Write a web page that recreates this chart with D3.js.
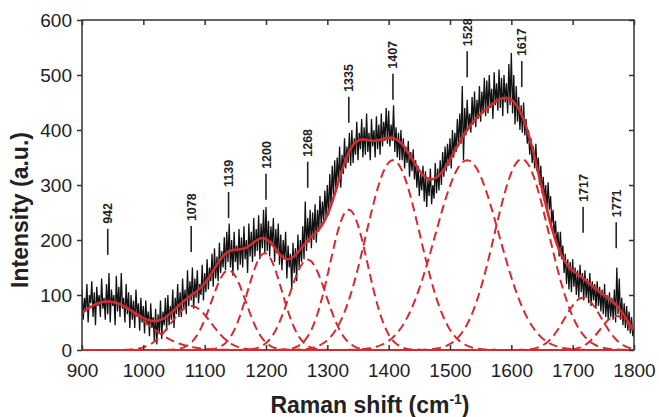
<!DOCTYPE html>
<html><head><meta charset="utf-8">
<script src="https://cdn.jsdelivr.net/npm/d3@7"></script>
<style>
html,body{margin:0;padding:0;background:#fff;}
svg{display:block;font-family:"Liberation Sans",Arial,Helvetica,sans-serif;}
</style></head>
<body><svg id="chart" width="659" height="417"></svg>
<script>
// ---- data ----
const shiftStart = 900, shiftStep = 2;
const intensity = [
 110,55,95,70,120,50,100,85,125,60,
 105,45,115,80,100,60,130,75,95,55,
 120,65,140,50,110,80,100,45,135,70,
 115,60,140,75,95,50,120,65,105,40,
 100,55,90,40,110,60,85,35,95,50,
 80,30,90,45,70,25,85,40,60,15,
 75,10,65,30,90,20,70,45,95,35,
 100,45,80,55,110,40,95,65,120,60,
 105,60,130,75,110,65,145,80,125,90,
 150,75,130,95,145,85,120,100,155,90,
 140,105,165,110,150,125,175,115,185,130,
 170,125,195,140,180,150,205,145,215,160,
 230,150,200,135,215,160,190,145,220,155,
 205,150,225,165,200,140,230,170,215,160,
 240,170,220,180,245,165,230,185,255,175,
 260,180,235,170,225,190,240,160,220,175,
 230,155,210,145,200,165,215,130,190,150,
 175,110,195,140,185,125,210,150,200,160,
 225,165,270,180,240,195,255,185,250,200,
 265,195,255,215,280,225,270,235,290,240,
 300,245,320,260,335,280,345,290,350,305,
 370,295,355,320,385,330,370,340,395,335,
 400,340,385,355,415,345,395,365,420,350,
 405,355,430,360,395,345,420,370,400,350,
 425,365,410,355,430,370,415,380,440,375,
 435,370,410,380,445,360,405,350,395,345,
 400,345,385,330,370,340,380,315,360,325,
 365,310,345,295,335,280,320,290,335,270,
 325,260,310,280,330,265,300,275,340,285,
 330,290,345,300,360,315,370,325,375,335,
 385,330,400,350,395,360,420,370,430,375,
 480,345,440,390,455,400,430,395,460,410,
 470,405,455,420,480,415,470,430,495,425,
 490,430,500,440,475,420,505,445,485,435,
 510,440,495,425,500,450,485,430,520,445,
 540,430,500,410,480,415,460,400,445,395,
 450,390,420,375,400,355,385,340,370,330,
 375,325,350,300,335,285,315,270,300,255,
 305,255,280,230,255,205,235,190,215,170,
 215,165,190,140,175,120,165,110,160,105,
 165,115,150,100,145,95,155,105,140,90,
 145,95,130,85,140,80,125,90,120,75,
 125,80,115,70,110,65,120,60,100,55,
 105,60,95,55,110,50,150,65,130,55,
 95,45,85,40,80,35,70,30,60,25,
 40
];
// fitted Gaussian components
const peakCenters = [942, 1078, 1139, 1198, 1268, 1335, 1407, 1528, 1617, 1717, 1771];
const peakHeights = [88, 80, 145, 176, 164, 255, 345, 345, 347, 95, 62];
const peakSigmas  = [58, 33, 28, 28, 30, 31, 44, 52, 44.5, 30, 26];
const peakLabels  = ["942","1078","1139","1200","1268","1335","1407","1528","1617","1717","1771"];
const labelBase   = [173, 178, 240, 273, 295, 413, 455, 496, 478, 213, 185];
const xTicks = [900,1000,1100,1200,1300,1400,1500,1600,1700,1800];
const yTicks = [0,100,200,300,400,500,600];

// ---- layout ----
const L = 82, R = 634, T = 20, B = 350;
const svg = d3.select("#chart");
const x = d3.scaleLinear().domain([900, 1800]).range([L, R]);
const y = d3.scaleLinear().domain([0, 600]).range([B, T]);
const red = "#d42a30";

svg.append("defs").append("clipPath").attr("id","clip")
  .append("rect").attr("x",L).attr("y",T).attr("width",R-L).attr("height",B-T);

const spectrum = intensity.map((v,i)=>({s: shiftStart + i*shiftStep, v}));
const gridX = d3.range(900, 1800.1, 2);
const comp = (k, s) => peakHeights[k]*Math.exp(-((s-peakCenters[k])**2)/(2*peakSigmas[k]**2));
const line = d3.line().x(d=>x(d[0])).y(d=>y(d[1]));

const g = svg.append("g").attr("clip-path","url(#clip)");
// black spectrum
g.append("path").datum(spectrum)
  .attr("d", d3.line().x(d=>x(d.s)).y(d=>y(d.v)))
  .attr("fill","none").attr("stroke","#111").attr("stroke-width",1.3);
// components
peakCenters.forEach((c,k)=>{
  g.append("path").datum(gridX.map(s=>[s, comp(k,s)]))
   .attr("d", line).attr("fill","none").attr("stroke",red)
   .attr("stroke-width",2).attr("stroke-dasharray","9,5");
});
// fit
g.append("path").datum(gridX.map(s=>[s, d3.sum(peakCenters,(c,k)=>comp(k,s))]))
  .attr("d", line).attr("fill","none").attr("stroke",red).attr("stroke-width",2.6);

// frame
svg.append("rect").attr("x",L).attr("y",T).attr("width",R-L).attr("height",B-T)
  .attr("fill","none").attr("stroke","#333").attr("stroke-width",1.5);
// red zero line
svg.append("line").attr("x1",L).attr("x2",R).attr("y1",y(0)).attr("y2",y(0))
  .attr("stroke",red).attr("stroke-width",2);

// axes
const fmt = d3.format("d");
const axB = svg.append("g").attr("transform",`translate(0,${B})`)
  .call(d3.axisBottom(x).tickValues(xTicks).tickFormat(fmt).tickSizeInner(-5).tickSizeOuter(0).tickPadding(14));
const axT = svg.append("g").attr("transform",`translate(0,${T})`)
  .call(d3.axisTop(x).tickValues(xTicks).tickSizeInner(-5).tickSizeOuter(0).tickFormat(""));
const axL = svg.append("g").attr("transform",`translate(${L},0)`)
  .call(d3.axisLeft(y).tickValues(yTicks).tickFormat(fmt).tickSizeInner(5).tickSizeOuter(0).tickPadding(5));
const axR = svg.append("g").attr("transform",`translate(${R},0)`)
  .call(d3.axisRight(y).tickValues(yTicks).tickSizeInner(-5).tickSizeOuter(0).tickFormat(""));
[axB,axT,axL,axR].forEach(a=>{
  a.select(".domain").remove();
  a.selectAll(".tick line").attr("stroke","#333").attr("stroke-width",1.5);
  a.selectAll("text").attr("font-size",19).attr("fill","#222")
   .attr("font-family","Liberation Sans, Arial, sans-serif");
});
axB.selectAll(".tick text").attr("dy","0.71em");

// peak annotations
peakCenters.forEach((c,k)=>{
  const px = x(peakLabels[k]*1), yb = y(labelBase[k]);
  svg.append("line").attr("x1",px).attr("x2",px).attr("y1",yb).attr("y2",yb-26)
    .attr("stroke","#222").attr("stroke-width",1.6);
  svg.append("text").attr("transform",`translate(${px},${yb-31}) rotate(-90)`)
    .attr("dy","0.36em").attr("font-size",12.5).attr("font-weight","bold").attr("fill","#222")
    .text(peakLabels[k]);
});

// titles
svg.append("text").attr("x",370).attr("y",413).attr("text-anchor","middle")
  .attr("font-size",23).attr("font-weight","bold").attr("fill","#222")
  .html('Raman shift (cm<tspan dy="-9" font-size="14">-1</tspan><tspan dy="9">)</tspan>');
svg.append("text").attr("transform","translate(28,210) rotate(-90)")
  .attr("text-anchor","middle").attr("font-size",23).attr("font-weight","bold").attr("fill","#222")
  .text("Intensity (a.u.)");
</script></body></html>
